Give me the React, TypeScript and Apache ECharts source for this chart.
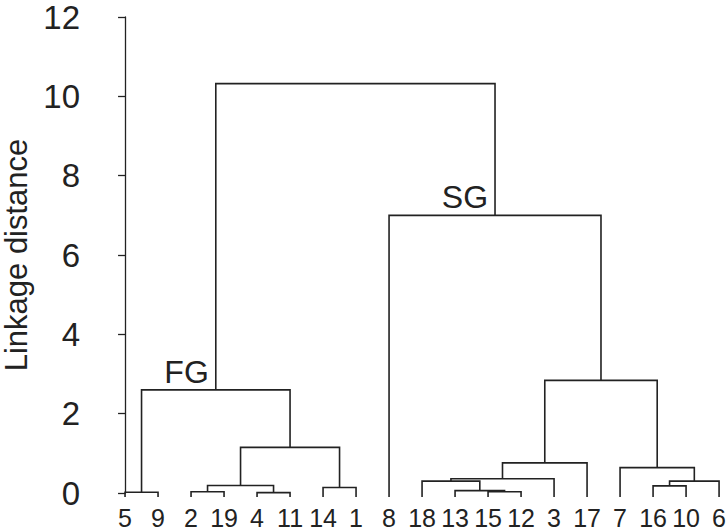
import React, { useEffect, useRef } from "react";
import * as echarts from "echarts";

// Leaf labels in dendrogram order
const leafLabels = ["5", "9", "2", "19", "4", "11", "14", "1", "8", "18", "13", "15", "12", "3", "17", "7", "16", "10", "6"];
// Merges (linkage): ids < 19 are leaves, id 19+k is merge k
const mergeA = [0, 2, 4, 20, 6, 22, 19, 11, 10, 9, 28, 29, 16, 31, 15, 30, 8, 25];
const mergeB = [1, 3, 5, 21, 7, 23, 24, 12, 26, 27, 13, 14, 17, 18, 32, 33, 34, 35];
const mergeHeights = [0.02, 0.03, 0.01, 0.19, 0.14, 1.15, 2.6, 0.03, 0.06, 0.3, 0.36, 0.76, 0.18, 0.3, 0.64, 2.84, 7.0, 10.32];
const leafBase = -0.1;
// Cluster labels
const clusterLabelTexts = ["FG", "SG"];
const clusterLabelMerges = [6, 16];
// Y axis ticks
const yMin = 0;
const yMax = 12;
const yInterval = 2;

const FONT = "'Liberation Sans', Arial, Helvetica, sans-serif";
const INK = "#222";

function buildNodes() {
  const n = leafLabels.length;
  const xs: number[] = [];
  const hs: number[] = [];
  for (let i = 0; i < n; i++) {
    xs.push(i);
    hs.push(leafBase);
  }
  for (let k = 0; k < mergeHeights.length; k++) {
    xs.push((xs[mergeA[k]] + xs[mergeB[k]]) / 2);
    hs.push(mergeHeights[k]);
  }
  return { xs, hs };
}

export default function App() {
  const ref = useRef<HTMLDivElement>(null);
  useEffect(() => {
    if (!ref.current) return;
    const chart = echarts.init(ref.current, null, { renderer: "svg" });
    const { xs, hs } = buildNodes();
    const n = leafLabels.length;
    const linkData = mergeHeights.map((h, k) => [
      xs[mergeA[k]],
      xs[mergeB[k]],
      h,
      hs[mergeA[k]],
      hs[mergeB[k]],
    ]);
    const leafData = leafLabels.map((_, i) => [i, leafBase]);
    const labelData = clusterLabelTexts.map((t, j) => [xs[n + clusterLabelMerges[j]], hs[n + clusterLabelMerges[j]]]);

    chart.setOption({
      animation: false,
      grid: { left: 96, right: 0, top: 17, bottom: 39, containLabel: false, outerBoundsMode: "none" },
      xAxis: { type: "value", min: -0.88, max: 18.21, show: false },
      yAxis: {
        type: "value",
        min: yMin,
        max: yMax,
        interval: yInterval,
        name: "Linkage distance",
        nameLocation: "middle",
        nameRotate: 90,
        nameGap: 62,
        nameTextStyle: { fontFamily: FONT, fontSize: 31, color: INK, lineHeight: 31 },
        axisLine: { show: true, lineStyle: { color: INK, width: 1.3 } },
        axisTick: { show: true, length: 7, inside: false, lineStyle: { color: INK, width: 1.3 } },
        axisLabel: { fontFamily: FONT, fontSize: 33, color: INK, margin: 16 },
        splitLine: { show: false },
      },
      series: [
        {
          type: "custom",
          clip: false,
          silent: true,
          data: linkData,
          renderItem: (params: any, api: any) => {
            const xl = api.value(0), xr = api.value(1), h = api.value(2), hl = api.value(3), hr = api.value(4);
            const pts = [api.coord([xl, hl]), api.coord([xl, h]), api.coord([xr, h]), api.coord([xr, hr])];
            return {
              type: "polyline",
              shape: { points: pts },
              style: { stroke: INK, lineWidth: 1.6, fill: "none" },
            };
          },
        },
        {
          type: "custom",
          clip: false,
          silent: true,
          data: leafData,
          renderItem: (params: any, api: any) => {
            const p = api.coord([api.value(0), api.value(1)]);
            return {
              type: "text",
              x: p[0],
              y: p[1] + 21.5,
              style: {
                text: leafLabels[params.dataIndex],
                fontFamily: FONT,
                fontSize: 25,
                fill: INK,
                align: "center",
                verticalAlign: "middle",
              },
            };
          },
        },
        {
          type: "custom",
          clip: false,
          silent: true,
          data: labelData,
          renderItem: (params: any, api: any) => {
            const p = api.coord([api.value(0), api.value(1)]);
            return {
              type: "text",
              x: p[0] - 7,
              y: p[1] - 18,
              style: {
                text: clusterLabelTexts[params.dataIndex],
                fontFamily: FONT,
                fontSize: 32,
                fill: INK,
                align: "right",
                verticalAlign: "middle",
              },
            };
          },
        },
      ],
    });
    return () => chart.dispose();
  }, []);
  return <div ref={ref} style={{ position: "absolute", left: 0, top: 0, width: 726, height: 532 }} />;
}
